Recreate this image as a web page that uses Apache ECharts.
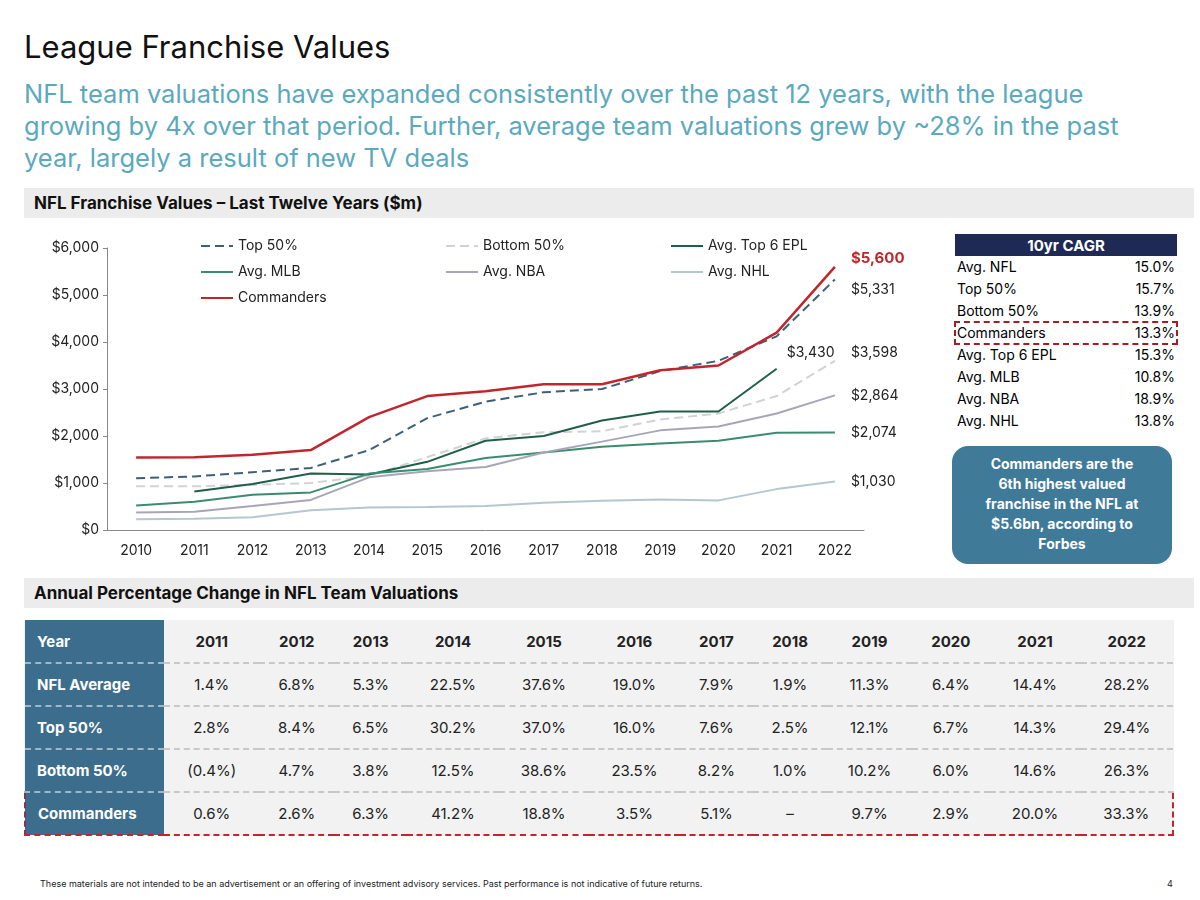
<!DOCTYPE html>
<html>
<head>
<meta charset="utf-8">
<script src="https://cdn.jsdelivr.net/npm/echarts@6/dist/echarts.min.js"></script>
<style>
body{margin:0;width:1200px;height:900px;background:#fff;font-family:Inter,"Liberation Sans",sans-serif;position:relative;overflow:hidden}
.abs{position:absolute}
h1{position:absolute;left:24px;top:28px;margin:0;font-size:31px;font-weight:400;color:#111}
.sub{left:24px;top:78px;width:1150px;font-size:25.5px;line-height:32px;color:#5ba9bd}
.band{left:24px;height:30px;width:1170px;background:#ececec;font-weight:700;font-size:17px;line-height:30px;padding-left:10px;box-sizing:border-box;color:#111}
#main{left:20px;top:230px;width:920px;height:340px}
table.cagr{left:955px;top:234px;width:222px;border-collapse:collapse;font-size:14px}
.cagr td{padding:0 2px;height:22px;line-height:20px}
.cagr th{background:#1e2a55;color:#fff;font-size:15px;height:20px}
.cagr td.v{text-align:right}
.box{left:952px;top:446px;width:220px;height:118px;background:#3f7a99;border-radius:16px;color:#fff;font-weight:700;font-size:14px;text-align:center;line-height:20px;padding-top:8px;box-sizing:border-box}
table.pct{left:24px;top:620px;width:1150px;border-collapse:collapse;font-size:15px;background:#f2f2f2}
.pct td{height:39px;text-align:center;border-bottom:2px dashed #c8c8c8;color:#222}
.pct td.h{background:#3d6d8c;color:#fff;font-weight:700;text-align:left;padding-left:12px;width:125px;border-bottom:2px dashed #9fb8c8}
.pct tr.yr td{font-weight:700;height:40px}
.pct tr.cm td{border-bottom:2px dashed #c0272d;border-top:2px dashed #c0272d}
.pct tr.cm td.h{border-left:2px dashed #7a3a4a}
.pct tr.cm td:last-child{border-right:2px dashed #c0272d}
.foot{left:40px;top:878px;font-size:9px;color:#222}
</style>
</head>
<body>
<h1>League Franchise Values</h1>
<div class="abs sub">NFL team valuations have expanded consistently over the past 12 years, with the league growing by 4x over that period. Further, average team valuations grew by ~28% in the past year, largely a result of new TV deals</div>
<div class="abs band" style="top:188px">NFL Franchise Values – Last Twelve Years ($m)</div>
<div id="main" class="abs"></div>
<table class="abs cagr" id="cagr"></table>
<div class="abs box">Commanders are the<br>6th highest valued<br>franchise in the NFL at<br>$5.6bn, according to<br>Forbes</div>
<div class="abs band" style="top:578px">Annual Percentage Change in NFL Team Valuations</div>
<table class="abs pct" id="pct"></table>
<div class="abs foot">These materials are not intended to be an advertisement or an offering of investment advisory services. Past performance is not indicative of future returns.</div>
<div class="abs foot" style="left:1167px">4</div>
<script>
var years = ['2010','2011','2012','2013','2014','2015','2016','2017','2018','2019','2020','2021','2022'];
var top50 = [1100,1140,1230,1320,1700,2380,2730,2930,3000,3380,3600,4120,5331];
var bottom50 = [930,930,960,1000,1150,1550,1950,2080,2100,2350,2480,2850,3598];
var epl = [null,820,980,1200,1180,1450,1900,2000,2330,2520,2520,3430,null];
var mlb = [520,600,750,800,1200,1300,1530,1650,1770,1840,1900,2070,2074];
var nba = [370,390,510,640,1120,1250,1340,1650,1880,2120,2200,2480,2864];
var nhl = [230,240,270,420,480,490,510,580,620,650,630,870,1030];
var commanders = [1540,1550,1600,1700,2400,2850,2950,3100,3100,3400,3500,4200,5600];

var cagrNames = ['Avg. NFL','Top 50%','Bottom 50%','Commanders','Avg. Top 6 EPL','Avg. MLB','Avg. NBA','Avg. NHL'];
var cagrValues = ['15.0%','15.7%','13.9%','13.3%','15.3%','10.8%','18.9%','13.8%'];

var pctYears = ['2011','2012','2013','2014','2015','2016','2017','2018','2019','2020','2021','2022'];
var pctRows = ['NFL Average','Top 50%','Bottom 50%','Commanders'];
var pctNfl = ['1.4%','6.8%','5.3%','22.5%','37.6%','19.0%','7.9%','1.9%','11.3%','6.4%','14.4%','28.2%'];
var pctTop = ['2.8%','8.4%','6.5%','30.2%','37.0%','16.0%','7.6%','2.5%','12.1%','6.7%','14.3%','29.4%'];
var pctBottom = ['(0.4%)','4.7%','3.8%','12.5%','38.6%','23.5%','8.2%','1.0%','10.2%','6.0%','14.6%','26.3%'];
var pctCmd = ['0.6%','2.6%','6.3%','41.2%','18.8%','3.5%','5.1%','–','9.7%','2.9%','20.0%','33.3%'];

// side tables
var h = '<tr><th colspan="2">10yr CAGR</th></tr>';
cagrNames.forEach(function(n,i){
	var st = n=='Commanders' ? ' style="outline:2px dashed #a61c22;outline-offset:-1px"' : '';
	h += '<tr'+st+'><td>'+n+'</td><td class="v">'+cagrValues[i]+'</td></tr>';
});
document.getElementById('cagr').innerHTML = h;

var rows = [pctNfl,pctTop,pctBottom,pctCmd];
h = '<tr class="yr"><td class="h">Year</td>' + pctYears.map(function(y){return '<td>'+y+'</td>'}).join('') + '</tr>';
rows.forEach(function(r,i){
	h += '<tr'+(i==3?' class="cm"':'')+'><td class="h">'+pctRows[i]+'</td>' + r.map(function(v){return '<td>'+v+'</td>'}).join('') + '</tr>';
});
document.getElementById('pct').innerHTML = h;

var myChart = echarts.init(document.getElementById('main'));
function line(name,data,color,dash,width){
	return {name:name,type:'line',data:data,symbol:'none',smooth:false,
		lineStyle:{color:color,width:width||2,type:dash?[9,5]:'solid'},itemStyle:{color:color},
		endLabel:{show:true,fontSize:14,color:'#222',offset:[8,0]}};
}
var s = [
	line('Top 50%',top50,'#3e5f78',true),
	line('Bottom 50%',bottom50,'#d2d2d2',true),
	line('Avg. Top 6 EPL',epl,'#1f5e4b'),
	line('Avg. MLB',mlb,'#3a8c6e'),
	line('Avg. NBA',nba,'#a9a5b9'),
	line('Avg. NHL',nhl,'#b6c6ce'),
	line('Commanders',commanders,'#c0272d',false,2.5)
];
s[2].endLabel.offset = [2,-16];
s[6].endLabel = {show:true,fontSize:15,fontWeight:'bold',color:'#c0272d',offset:[8,-8]};
s[0].endLabel.offset = [8,10];
s[1].endLabel.offset = [8,-8];
s.forEach(function(x){ x.endLabel.formatter = function(p){ return '$'+p.value.toLocaleString('en-US'); }; });

var lg = {orient:'vertical',itemWidth:32,itemHeight:10,itemGap:12,itemStyle:{opacity:0},
	textStyle:{fontSize:14,color:'#222',fontFamily:'Inter'}};
var option = {
	textStyle:{fontFamily:'Inter'},
	legend:[
		Object.assign({left:175,top:4,data:['Top 50%','Avg. MLB','Commanders']},lg),
		Object.assign({left:420,top:4,data:['Bottom 50%','Avg. NBA']},lg),
		Object.assign({left:645,top:4,data:['Avg. Top 6 EPL','Avg. NHL']},lg)
	],
	grid:{left:87,right:76,top:18,bottom:40},
	xAxis:{type:'category',data:years,boundaryGap:true,
		axisLine:{lineStyle:{color:'#888'}},axisTick:{show:false},
		axisLabel:{fontSize:14,color:'#222',margin:14}},
	yAxis:{type:'value',min:0,max:6000,interval:1000,
		axisLine:{show:true,lineStyle:{color:'#888'}},axisTick:{show:true,length:4},splitLine:{show:false},
		axisLabel:{fontSize:14,color:'#222',formatter:function(v){return '$'+v.toLocaleString('en-US')}}},
	series:s
};
myChart.setOption(option);
</script>
</body>
</html>
